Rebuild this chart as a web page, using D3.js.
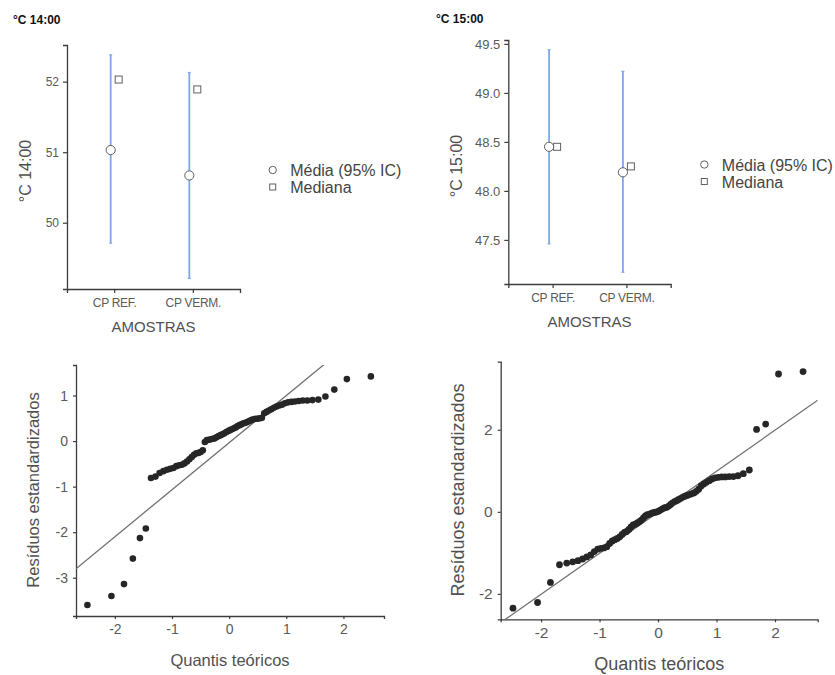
<!DOCTYPE html>
<html>
<head>
<meta charset="utf-8">
<script src="https://cdn.jsdelivr.net/npm/d3@7/dist/d3.min.js"></script>
<style>
  html, body { margin: 0; padding: 0; background: #fff; }
  svg { display: block; font-family: "Liberation Sans", Arial, sans-serif; }
</style>
</head>
<body>
<svg id="chart" width="835" height="675"></svg>
<script>
// ---- Descriptive summaries per sample ----
const categories = ["CP REF.", "CP VERM."];

const mean1400 = [51.03, 50.67];
const ciLow1400 = [49.71, 49.21];
const ciHigh1400 = [52.38, 52.13];
const median1400 = [52.03, 51.89];
const yTicks1400 = [50, 51, 52];

const mean1500 = [48.45, 48.19];
const ciLow1500 = [47.46, 47.17];
const ciHigh1500 = [49.44, 49.22];
const median1500 = [48.45, 48.25];
const yTicks1500 = [47.5, 48.0, 48.5, 49.0, 49.5];

const legendLabels = ["Média (95% IC)", "Mediana"];

// ---- Q-Q plots of standardized residuals ----
const theoreticalQuantiles = [
  -2.48, -2.06, -1.84, -1.685, -1.561, -1.458, -1.368, -1.289, -1.217, -1.150,
  -1.089, -1.031, -0.976, -0.924, -0.875, -0.828, -0.782, -0.738, -0.695, -0.654,
  -0.614, -0.574, -0.536, -0.498, -0.461, -0.425, -0.389, -0.353, -0.319, -0.284,
  -0.250, -0.216, -0.183, -0.149, -0.116, -0.083, -0.049, -0.016,
  0.016, 0.049, 0.083, 0.116, 0.149, 0.183, 0.216, 0.250, 0.284, 0.319,
  0.353, 0.389, 0.425, 0.461, 0.498, 0.536, 0.574, 0.614, 0.654, 0.695,
  0.738, 0.782, 0.828, 0.875, 0.924, 0.976, 1.031, 1.089, 1.150, 1.217,
  1.289, 1.368, 1.458, 1.561, 1.685, 1.84, 2.06, 2.48
];

const residuals1400 = [
  -3.60, -3.40, -3.14, -2.58, -2.13, -1.92, -0.81, -0.78, -0.70, -0.66,
  -0.63, -0.61, -0.59, -0.55, -0.53, -0.52, -0.49, -0.45, -0.40, -0.35,
  -0.30, -0.27, -0.26, -0.24, -0.20, -0.02, 0.02, 0.03, 0.04, 0.05,
  0.06, 0.09, 0.11, 0.13, 0.15, 0.17, 0.20, 0.22,
  0.24, 0.26, 0.28, 0.30, 0.33, 0.35, 0.37, 0.39, 0.40, 0.42,
  0.44, 0.46, 0.48, 0.49, 0.49, 0.50, 0.51, 0.61, 0.64, 0.67,
  0.70, 0.73, 0.76, 0.78, 0.80, 0.83, 0.85, 0.86, 0.87, 0.88,
  0.89, 0.89, 0.90, 0.91, 0.98, 1.13, 1.36, 1.42
];

const residuals1500 = [
  -2.35, -2.21, -1.72, -1.29, -1.25, -1.22, -1.19, -1.15, -1.10, -1.05,
  -0.97, -0.91, -0.89, -0.88, -0.85, -0.77, -0.71, -0.68, -0.65, -0.61,
  -0.55, -0.50, -0.48, -0.43, -0.37, -0.32, -0.30, -0.27, -0.24, -0.20,
  -0.15, -0.10, -0.07, -0.06, -0.04, -0.02, -0.01, 0.00,
  0.02, 0.05, 0.08, 0.10, 0.11, 0.14, 0.18, 0.22, 0.25, 0.27,
  0.30, 0.33, 0.36, 0.38, 0.40, 0.42, 0.44, 0.46, 0.50, 0.55,
  0.63, 0.68, 0.72, 0.76, 0.80, 0.83, 0.84, 0.85, 0.85, 0.86,
  0.86, 0.88, 0.93, 1.02, 2.01, 2.14, 3.36, 3.42
];

// reference line: [slope, intercept]
const qqLine1400 = [1.033, -0.035];
const qqLine1500 = [1.0, -0.01];

const qqTicksX = [-2, -1, 0, 1, 2];
const qqTicksY1400 = [-3, -2, -1, 0, 1];
const qqTicksY1500 = [-2, 0, 2];

// ---- styling ----
const AXIS = "#3c3c3c";
const TICKTXT = "#5a5a5a";
const TITLETXT = "#505050";
const BAR = "#7ea8e4";
const MARK = "#606060";
const DOT = "#262626";

const svg = d3.select("#chart");

function styleAxis(g, fontSize) {
  g.select(".domain").attr("stroke", AXIS).attr("stroke-width", 1.3);
  g.selectAll(".tick line").attr("stroke", AXIS).attr("stroke-width", 1.2);
  g.selectAll(".tick text")
    .attr("fill", TICKTXT)
    .style("font-size", fontSize + "px")
    .style("font-family", "'Liberation Sans', Arial, sans-serif");
}

function descriptivesPanel(cfg) {
  const g = svg.append("g");

  g.append("text")
    .attr("x", cfg.titleX).attr("y", cfg.titleY)
    .attr("fill", "#111")
    .style("font-size", "12px").style("font-weight", "bold")
    .text(cfg.title);

  const x = d3.scalePoint().domain(categories).range([cfg.left, cfg.right]).padding(0.6);
  const y = d3.scaleLinear().domain(cfg.yDomain).range([cfg.bottom, cfg.top]);

  const yAxis = g.append("g")
    .attr("transform", `translate(${cfg.left},0)`)
    .call(d3.axisLeft(y).tickValues(cfg.yTicks).tickFormat(cfg.fmt).tickSizeOuter(0).tickSize(4).tickPadding(4));
  styleAxis(yAxis, cfg.tickFont);

  const xAxis = g.append("g")
    .attr("transform", `translate(0,${cfg.bottom})`)
    .call(d3.axisBottom(x).tickSizeOuter(0).tickSize(4).tickPadding(5));
  styleAxis(xAxis, 12);
  xAxis.selectAll(".tick text").attr("letter-spacing", "-0.3px");

  g.append("text")
    .attr("x", (cfg.left + cfg.right) / 2).attr("y", cfg.bottom + 43)
    .attr("text-anchor", "middle").attr("fill", TITLETXT)
    .style("font-size", "15px")
    .text("AMOSTRAS");

  g.append("text")
    .attr("transform", `translate(${cfg.yTitleX},${(cfg.top + cfg.bottom) / 2 + 4}) rotate(-90)`)
    .attr("text-anchor", "middle").attr("fill", TITLETXT)
    .style("font-size", "16px")
    .text(cfg.title);

  const rows = categories.map((c, i) => ({
    c, mean: cfg.mean[i], lo: cfg.lo[i], hi: cfg.hi[i], med: cfg.med[i]
  }));

  // confidence intervals
  const bars = g.append("g");
  rows.forEach(d => {
    const cx = x(d.c) - 3.5;
    bars.append("line")
      .attr("x1", cx).attr("x2", cx)
      .attr("y1", y(d.lo)).attr("y2", y(d.hi))
      .attr("stroke", BAR).attr("stroke-width", 1.8);
    [d.lo, d.hi].forEach(v => {
      bars.append("line")
        .attr("x1", cx - 1.5).attr("x2", cx + 1.5)
        .attr("y1", y(v)).attr("y2", y(v))
        .attr("stroke", BAR).attr("stroke-width", 1.2);
    });
  });

  // medians
  g.selectAll(".med").data(rows).enter().append("rect")
    .attr("x", d => x(d.c) + 4.5 - 3.5)
    .attr("y", d => y(d.med) - 3.5)
    .attr("width", 7).attr("height", 7)
    .attr("fill", "#fff").attr("stroke", MARK).attr("stroke-width", 1);

  // means
  g.selectAll(".mean").data(rows).enter().append("circle")
    .attr("cx", d => x(d.c) - 3.5)
    .attr("cy", d => y(d.mean))
    .attr("r", 4.6)
    .attr("fill", "#fff").attr("stroke", MARK).attr("stroke-width", 1);

  // legend
  const lg = g.append("g");
  lg.append("circle")
    .attr("cx", cfg.legX).attr("cy", cfg.legY)
    .attr("r", 3.7).attr("fill", "#fff").attr("stroke", MARK).attr("stroke-width", 1);
  lg.append("rect")
    .attr("x", cfg.legX - 3).attr("y", cfg.legY + 17 - 3)
    .attr("width", 6).attr("height", 6)
    .attr("fill", "#fff").attr("stroke", MARK).attr("stroke-width", 1);
  legendLabels.forEach((t, i) => {
    lg.append("text")
      .attr("x", cfg.legX + 17.5).attr("y", cfg.legY + 6 + i * 17)
      .attr("fill", "#444")
      .style("font-size", "16px")
      .text(t);
  });
}

descriptivesPanel({
  title: "°C 14:00", titleX: 13, titleY: 24,
  left: 67, right: 240, top: 45, bottom: 289,
  yDomain: [49.06, 52.52], yTicks: yTicks1400, fmt: d3.format("d"), tickFont: 12,
  yTitleX: 31,
  mean: mean1400, lo: ciLow1400, hi: ciHigh1400, med: median1400,
  legX: 272.7, legY: 170
});

descriptivesPanel({
  title: "°C 15:00", titleX: 436, titleY: 23,
  left: 508.3, right: 670.7, top: 40, bottom: 284,
  yDomain: [47.05, 49.54], yTicks: yTicks1500, fmt: d3.format(".1f"), tickFont: 13,
  yTitleX: 462,
  mean: mean1500, lo: ciLow1500, hi: ciHigh1500, med: median1500,
  legX: 704.3, legY: 164.5
});

function qqPanel(cfg) {
  const g = svg.append("g");
  const x = d3.scaleLinear().domain(cfg.xDomain).range([cfg.left, cfg.right]);
  const y = d3.scaleLinear().domain(cfg.yDomain).range([cfg.bottom, cfg.top]);

  const clipId = "clip" + cfg.id;
  g.append("clipPath").attr("id", clipId)
    .append("rect")
    .attr("x", cfg.left).attr("y", cfg.top)
    .attr("width", cfg.right - cfg.left).attr("height", cfg.bottom - cfg.top);

  const fmt = d => String(d);
  const yAxis = g.append("g")
    .attr("transform", `translate(${cfg.left},0)`)
    .call(d3.axisLeft(y).tickValues(cfg.yTicks).tickFormat(fmt).tickSizeOuter(0).tickSize(3).tickPadding(5));
  styleAxis(yAxis, cfg.tickFont);

  const xAxis = g.append("g")
    .attr("transform", `translate(0,${cfg.bottom})`)
    .call(d3.axisBottom(x).tickValues(qqTicksX).tickFormat(fmt).tickSizeOuter(0).tickSize(3).tickPadding(5));
  styleAxis(xAxis, cfg.tickFont);

  // reference line
  const [slope, intercept] = cfg.line;
  g.append("line")
    .attr("clip-path", `url(#${clipId})`)
    .attr("x1", x(cfg.xDomain[0])).attr("y1", y(intercept + slope * cfg.xDomain[0]))
    .attr("x2", x(cfg.xDomain[1])).attr("y2", y(intercept + slope * cfg.xDomain[1]))
    .attr("stroke", "#707070").attr("stroke-width", 1.3);

  const pts = theoreticalQuantiles.map((q, i) => [q, cfg.resid[i]]);
  g.selectAll(".pt").data(pts).enter().append("circle")
    .attr("cx", d => x(d[0])).attr("cy", d => y(d[1]))
    .attr("r", cfg.r).attr("fill", DOT);

  g.append("text")
    .attr("x", (cfg.left + cfg.right) / 2).attr("y", cfg.xTitleY)
    .attr("text-anchor", "middle").attr("fill", TITLETXT)
    .style("font-size", cfg.titleFont + "px")
    .text("Quantis teóricos");

  g.append("text")
    .attr("transform", `translate(${cfg.yTitleX},${cfg.yTitleY}) rotate(-90)`)
    .attr("text-anchor", "middle").attr("fill", TITLETXT)
    .style("font-size", cfg.titleFont + "px")
    .text("Resíduos estandardizados");
}

qqPanel({
  id: "a",
  left: 76, right: 384, top: 365, bottom: 616,
  xDomain: [-2.68, 2.71], yDomain: [-3.84, 1.67],
  yTicks: qqTicksY1400, resid: residuals1400, line: qqLine1400,
  tickFont: 14, titleFont: 16.5, r: 3.3,
  xTitleY: 666, yTitleX: 39, yTitleY: 490
});

qqPanel({
  id: "b",
  left: 500.7, right: 817.7, top: 361.7, bottom: 619.3,
  xDomain: [-2.69, 2.73], yDomain: [-2.62, 3.66],
  yTicks: qqTicksY1500, resid: residuals1500, line: qqLine1500,
  tickFont: 15.5, titleFont: 18, r: 3.4,
  xTitleY: 670, yTitleX: 464, yTitleY: 490
});
</script>
</body>
</html>
